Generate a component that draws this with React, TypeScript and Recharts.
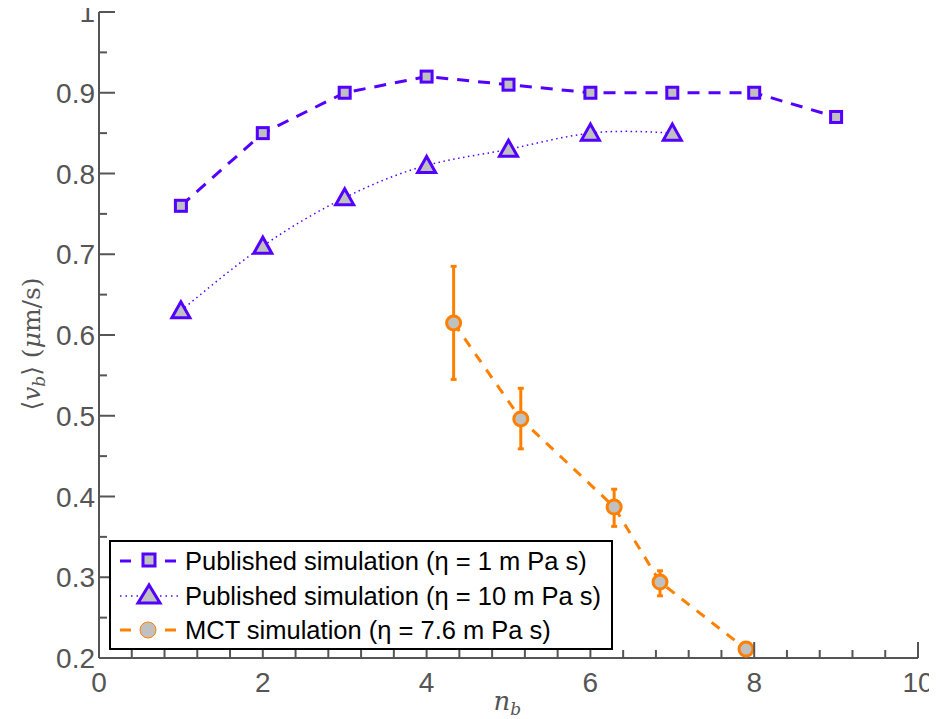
import { LineChart, Line, XAxis, YAxis, ErrorBar, Legend } from 'recharts';

// tick positions (minor + major) and which of them get a label
const xTicks = [0, 0.4, 0.8, 1.2, 1.6, 2, 2.4, 2.8, 3.2, 3.6, 4, 4.4, 4.8, 5.2, 5.6, 6, 6.4, 6.8, 7.2, 7.6, 8, 8.4, 8.8, 9.2, 9.6, 10];
const xMajor = [0, 2, 4, 6, 8, 10];
const yTicks = [0.2, 0.25, 0.3, 0.35, 0.4, 0.45, 0.5, 0.55, 0.6, 0.65, 0.7, 0.75, 0.8, 0.85, 0.9, 0.95, 1];
const yMajor = [0.2, 0.3, 0.4, 0.5, 0.6, 0.7, 0.8, 0.9, 1];

// published simulation, eta = 1 mPa s
const nbPub1 = [1, 2, 3, 4, 5, 6, 7, 8, 9];
const vPub1 = [0.76, 0.85, 0.9, 0.92, 0.91, 0.9, 0.9, 0.9, 0.87];

// published simulation, eta = 10 mPa s
const nbPub10 = [1, 2, 3, 4, 5, 6, 7];
const vPub10 = [0.63, 0.71, 0.77, 0.81, 0.83, 0.85, 0.85];

// MCT simulation, eta = 7.6 mPa s
const nbMct = [4.33, 5.15, 6.29, 6.85, 7.9];
const vMct = [0.615, 0.496, 0.387, 0.294, 0.211];
const errLow = [0.07, 0.037, 0.024, 0.017, 0];
const errHigh = [0.07, 0.038, 0.022, 0.014, 0];

const pub1Data = nbPub1.map((nb, i) => ({ nb, v: vPub1[i] }));
const pub10Data = nbPub10.map((nb, i) => ({ nb, v: vPub10[i] }));
const mctData = nbMct.map((nb, i) => ({ nb, v: vMct[i], err: [errLow[i], errHigh[i]] }));

const BLUE = '#5300ff';
const ORANGE = '#ff8000';
const GREY_FILL = '#c0c0c0';
const AXIS = '#555555';
const FONT = '"Liberation Sans", Arial, sans-serif';
const SERIF = '"DejaVu Serif", "Liberation Serif", serif';

const isMajor = (v: number, majors: number[]) => majors.some((m) => Math.abs(m - v) < 1e-6);

const Square = ({ cx, cy, key }: any) => (
  <rect key={key} x={cx - 5.5} y={cy - 5.5} width={11} height={11} fill={GREY_FILL} stroke={BLUE} strokeWidth={3} />
);
const Triangle = ({ cx, cy, key }: any) => (
  <polygon
    key={key}
    points={`${cx},${cy - 9} ${cx - 9},${cy + 7} ${cx + 9},${cy + 7}`}
    fill={GREY_FILL}
    stroke={BLUE}
    strokeWidth={3}
  />
);
const Circle = ({ cx, cy, key }: any) => (
  <circle key={key} cx={cx} cy={cy} r={7} fill={GREY_FILL} stroke={ORANGE} strokeWidth={3} />
);

const XTick = ({ x, y, payload }: any) => {
  const major = isMajor(payload.value, xMajor);
  return (
    <g>
      <line x1={x} x2={x} y1={y} y2={y - (major ? 16 : 8)} stroke={AXIS} strokeWidth={2} />
      {major && (
        <text x={x} y={y + 34} textAnchor="middle" fill={AXIS} fontSize={28} fontFamily={FONT}>
          {payload.value}
        </text>
      )}
    </g>
  );
};

const YTick = ({ x, y, payload }: any) => {
  const major = isMajor(payload.value, yMajor);
  return (
    <g>
      <line x1={x} x2={x + (major ? 16 : 8)} y1={y} y2={y} stroke={AXIS} strokeWidth={2} />
      {major && (
        <text x={x - 4} y={y + 10} textAnchor="end" fill={AXIS} fontSize={28} fontFamily={FONT}>
          {Number(payload.value.toFixed(2)).toString()}
        </text>
      )}
    </g>
  );
};

// legend samples: line style drawn around the marker like the original
const DashPair = ({ color }: { color: string }) => (
  <>
    <line x1={2} x2={13} y1={16} y2={16} stroke={color} strokeWidth={3} />
    <line x1={47} x2={58} y1={16} y2={16} stroke={color} strokeWidth={3} />
  </>
);

const legendRows = [
  {
    label: 'Published simulation (η = 1 m Pa s)',
    sample: (
      <>
        <DashPair color={BLUE} />
        <rect x={25} y={9} width={12} height={12} fill={GREY_FILL} stroke={BLUE} strokeWidth={3} />
      </>
    ),
  },
  {
    label: 'Published simulation (η = 10 m Pa s)',
    sample: (
      <>
        <line x1={2} x2={20} y1={16} y2={16} stroke={BLUE} strokeWidth={1.5} strokeDasharray="1.5 4" />
        <line x1={42} x2={60} y1={16} y2={16} stroke={BLUE} strokeWidth={1.5} strokeDasharray="1.5 4" />
        <polygon points="31,5 20,23 42,23" fill={GREY_FILL} stroke={BLUE} strokeWidth={3} />
      </>
    ),
  },
  {
    label: 'MCT simulation (η = 7.6 m Pa s)',
    sample: (
      <>
        <DashPair color={ORANGE} />
        <circle cx={30} cy={16} r={8} fill={GREY_FILL} stroke={ORANGE} strokeWidth={1} />
      </>
    ),
  },
];

const LegendBox = () => (
  <div
    style={{
      border: '2px solid #000',
      background: '#fff',
      padding: '2px 10px 0 7px',
      fontFamily: FONT,
      fontSize: 25.5,
      color: '#000',
    }}
  >
    {legendRows.map((r) => (
      <div key={r.label} style={{ display: 'flex', alignItems: 'center', height: 34.5 }}>
        <svg width={60} height={32} style={{ marginRight: 7, flex: 'none' }}>
          {r.sample}
        </svg>
        <span style={{ whiteSpace: 'nowrap', lineHeight: '30px' }}>{r.label}</span>
      </div>
    ))}
  </div>
);

const YLabel = ({ viewBox }: any) => {
  const bx = 40;
  const cy = viewBox.y + viewBox.height / 2 + 9;
  return (
    <text
      x={bx}
      y={cy}
      transform={`rotate(-90 ${bx} ${cy})`}
      textAnchor="middle"
      fill={AXIS}
      fontSize={25}
      fontFamily={SERIF}
    >
      ⟨<tspan fontStyle="italic">v</tspan>
      <tspan fontStyle="italic" fontSize={17} dy={5}>b</tspan>
      <tspan dy={-5}>⟩ (</tspan>
      <tspan fontStyle="italic">μ</tspan>m/s)
    </text>
  );
};

const XLabel = ({ viewBox }: any) => {
  const cx = viewBox.x + viewBox.width / 2;
  return (
    <text x={cx - 15} y={710} fill={AXIS} fontSize={26} fontFamily={SERIF}>
      <tspan fontStyle="italic">n</tspan>
      <tspan fontStyle="italic" fontSize={17} dy={5}>b</tspan>
    </text>
  );
};

export default function App() {
  // pull the chart over the body's default 8px margin (top/left only) so it fills the window
  return (
    <div style={{ fontFamily: FONT, marginTop: -8, marginLeft: -8 }}>
      <LineChart width={937} height={719} margin={{ top: 12, right: 19, bottom: 0, left: 0 }}>
        <XAxis
          type="number"
          dataKey="nb"
          domain={[0, 10]}
          ticks={xTicks}
          interval={0}
          allowDataOverflow
          height={61}
          tickSize={0}
          tickMargin={0}
          tickLine={false}
          axisLine={{ stroke: AXIS, strokeWidth: 2 }}
          tick={<XTick />}
          label={<XLabel />}
        />
        <YAxis
          type="number"
          dataKey="v"
          domain={[0.2, 1]}
          ticks={yTicks}
          interval={0}
          allowDataOverflow
          width={99}
          tickSize={0}
          tickMargin={0}
          tickLine={false}
          axisLine={{ stroke: AXIS, strokeWidth: 2 }}
          tick={<YTick />}
          label={<YLabel />}
        />
        <Legend
          layout="vertical"
          align="center"
          verticalAlign="middle"
          content={<LegendBox />}
          wrapperStyle={{ left: 109, top: 540, width: 'auto' }}
        />
        <Line
          data={pub1Data}
          dataKey="v"
          name="pub1"
          type="linear"
          stroke={BLUE}
          strokeWidth={3}
          strokeDasharray="12 9"
          dot={Square}
          activeDot={false}
          isAnimationActive={false}
        />
        <Line
          data={pub10Data}
          dataKey="v"
          name="pub10"
          type="natural"
          stroke={BLUE}
          strokeWidth={1.5}
          strokeDasharray="1.5 3.5"
          dot={Triangle}
          activeDot={false}
          isAnimationActive={false}
        />
        <Line
          data={mctData}
          dataKey="v"
          name="mct"
          type="linear"
          stroke={ORANGE}
          strokeWidth={3}
          strokeDasharray="10 9"
          dot={Circle}
          activeDot={false}
          isAnimationActive={false}
        >
          <ErrorBar dataKey="err" direction="y" width={3} stroke={ORANGE} strokeWidth={3} />
        </Line>
      </LineChart>
    </div>
  );
}
